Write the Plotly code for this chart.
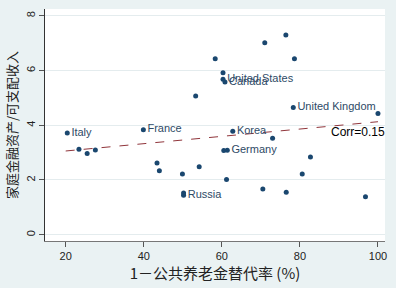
import plotly.graph_objects as go

# replacement gap (1 - public pension replacement rate, %) and household financial assets / disposable income
countries = ["Italy", "", "", "", "France", "", "", "", "", "", "Korea", "", "Germany",
             "Russia", "", "", "", "", "", "", "", "", "", "", "United Kingdom",
             "", "", "United States", "Canada", "", ""]
x_vals = [20.4, 23.4, 25.5, 27.6, 39.9, 43.4, 44.0, 49.9, 54.2, 61.2, 62.8, 60.5, 61.4,
          50.2, 50.2, 70.5, 73.0, 82.7, 80.6, 76.5, 96.8, 100.0, 76.4, 71.0, 78.3,
          58.3, 60.3, 60.3, 60.8, 53.3, 78.6]
y_vals = [3.72, 3.12, 2.97, 3.10, 3.84, 2.62, 2.34, 2.22, 2.48, 2.02, 3.78, 3.08, 3.09,
          1.44, 1.52, 1.67, 3.53, 2.84, 2.22, 1.55, 1.39, 4.43, 7.30, 7.02, 4.65,
          6.43, 5.92, 5.68, 5.58, 5.07, 6.43]

# fitted line endpoints
fit_x = [20, 100]
fit_y = [3.06, 4.13]
corr_text = "Corr=0.15"
corr_y = 3.77

x_ticks = [20, 40, 60, 80, 100]
y_ticks = [0, 2, 4, 6, 8]

navy = "#1a476f"
maroon = "#90353b"

fig = go.Figure()
fig.add_trace(go.Scatter(
    x=fit_x, y=fit_y, mode="lines",
    line=dict(color=maroon, width=1, dash="dash"),
    hoverinfo="skip", showlegend=False))
fig.add_trace(go.Scatter(
    x=x_vals, y=y_vals, mode="markers+text", text=countries,
    textposition="middle right",
    textfont=dict(family="Liberation Sans, Arial, sans-serif", size=11, color="#2e4a66"),
    marker=dict(color=navy, size=5, symbol="circle"),
    showlegend=False))

fig.add_annotation(x=1.006, y=corr_y, xref="paper", yref="y", text=corr_text,
                   showarrow=False, xanchor="right", yanchor="middle",
                   font=dict(family="Liberation Sans, Arial, sans-serif", size=12, color="#000000"))

fig.update_layout(
    width=396, height=288,
    margin=dict(l=45, r=9, t=9, b=45),
    paper_bgcolor="#eaf2f3",
    plot_bgcolor="#ffffff",
    font=dict(family="Liberation Sans, Arial, sans-serif", size=11, color="#222222"),
    xaxis=dict(
        range=[14.7, 101.8], tickvals=x_ticks, ticks="outside", ticklen=5,
        tickcolor="#555555", showgrid=False, zeroline=False,
        showline=True, linecolor="#777777", linewidth=1,
        tickfont=dict(size=11, color="#222222"),
        title=dict(text="1－公共养老金替代率 (%)", standoff=6,
                   font=dict(family="Noto Sans CJK SC", size=15, color="#222222"))),
    yaxis=dict(
        range=[-0.23, 8.25], tickvals=y_ticks, ticks="outside", ticklen=5,
        tickcolor="#555555", tickangle=-90,
        showgrid=True, gridcolor="#e4ecee", gridwidth=1, zeroline=False,
        showline=True, linecolor="#333333", linewidth=1,
        tickfont=dict(size=11, color="#222222"),
        title=dict(text="家庭金融资产/可支配收入", standoff=4,
                   font=dict(family="Noto Sans CJK SC", size=13, color="#222222"))),
)

fig.write_html("out.html")
